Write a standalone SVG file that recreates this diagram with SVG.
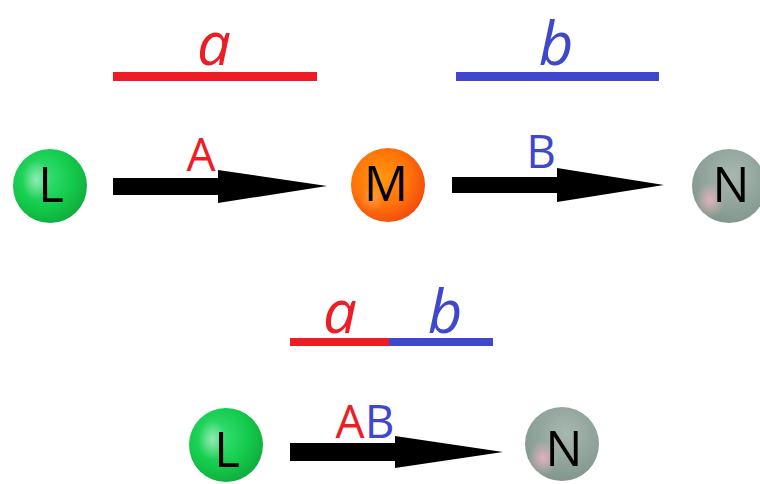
<svg xmlns="http://www.w3.org/2000/svg" width="760" height="484" viewBox="0 0 760 484">
  <defs>
    <radialGradient id="gGreen" cx="0.4" cy="0.38" r="0.65">
      <stop offset="0" stop-color="#3be07a"/>
      <stop offset="0.6" stop-color="#14cc4c"/>
      <stop offset="1" stop-color="#0fae3c"/>
    </radialGradient>
    <radialGradient id="gOrange" cx="0.4" cy="0.4" r="0.65">
      <stop offset="0" stop-color="#ff9a10"/>
      <stop offset="0.6" stop-color="#ff7208"/>
      <stop offset="1" stop-color="#f04a10"/>
    </radialGradient>
    <radialGradient id="gGrey" cx="0.55" cy="0.35" r="0.7">
      <stop offset="0" stop-color="#a8b8b0"/>
      <stop offset="0.6" stop-color="#8fa39a"/>
      <stop offset="1" stop-color="#7e948a"/>
    </radialGradient>
    <radialGradient id="gPink" cx="0.5" cy="0.5" r="0.5">
      <stop offset="0" stop-color="#e8b4c0" stop-opacity="0.9"/>
      <stop offset="1" stop-color="#e8b4c0" stop-opacity="0"/>
    </radialGradient>
    <radialGradient id="gShine" cx="0.5" cy="0.5" r="0.5">
      <stop offset="0" stop-color="#ffffff" stop-opacity="0.45"/>
      <stop offset="1" stop-color="#ffffff" stop-opacity="0"/>
    </radialGradient>
  </defs>
  <style>
    .letter { font-family: "Open Sans", "Liberation Sans", sans-serif; font-size: 49px; font-weight: 500; fill: #000; text-anchor: middle; }
    .lbl { font-family: "Open Sans", "Liberation Sans", sans-serif; font-size: 46px; font-weight: 500; text-anchor: middle; }
    .ital { font-family: "Open Sans", "Liberation Sans", sans-serif; font-style: italic; font-size: 60px; text-anchor: middle; }
    .red { fill: #ee1c25; }
    .blue { fill: #3f48cc; }
    .arrow { fill: #000; }
  </style>
  <rect width="760" height="484" fill="#ffffff"/>

  <g id="brackets">
    <rect x="113" y="72" width="204" height="9" fill="#ee1c25"/>
    <text class="ital red" x="214" y="65">a</text>
    <rect x="456" y="72" width="203" height="9" fill="#3f48cc"/>
    <text class="ital blue" x="556" y="65">b</text>
    <rect x="290" y="338" width="99" height="8" fill="#ee1c25"/>
    <rect x="389" y="338" width="104" height="8" fill="#3f48cc"/>
    <text class="ital red" x="340" y="333">a</text>
    <text class="ital blue" x="445" y="333">b</text>
  </g>

  <g id="connectors">
    <g id="arrow-LM">
      <polygon class="arrow" points="113,178 218,178 218,170 327,186 218,203 218,195 113,195"/>
      <text class="lbl red" x="201" y="171">A</text>
    </g>
    <g id="arrow-MN">
      <polygon class="arrow" points="452,177 557,177 557,168 664,185 557,202 557,193 452,193"/>
      <text class="lbl blue" x="541" y="168">B</text>
    </g>
    <g id="arrow-LN">
      <polygon class="arrow" points="290,443 395,443 395,436 503,452 395,468 395,461 290,461"/>
      <text class="lbl" x="365" y="438"><tspan class="red">A</tspan><tspan class="blue">B</tspan></text>
    </g>
  </g>

  <g id="node-L1">
    <circle cx="50" cy="186" r="37" fill="url(#gGreen)"/>
    <ellipse cx="36" cy="180" rx="14" ry="20" fill="url(#gShine)"/>
    <text class="letter" x="51" y="202">L</text>
  </g>
  <g id="node-M">
    <circle cx="388" cy="185" r="37" fill="url(#gOrange)"/>
    <ellipse cx="372" cy="198" rx="12" ry="14" fill="url(#gShine)" opacity="0.5"/>
    <text class="letter" x="386" y="201">M</text>
  </g>
  <g id="node-N1">
    <circle cx="729" cy="186" r="37" fill="url(#gGrey)"/>
    <ellipse cx="710" cy="200" rx="15" ry="18" fill="url(#gPink)"/>
    <text class="letter" x="731" y="202">N</text>
  </g>
  <g id="node-L2">
    <circle cx="226" cy="445" r="37" fill="url(#gGreen)"/>
    <ellipse cx="212" cy="440" rx="14" ry="20" fill="url(#gShine)"/>
    <text class="letter" x="227" y="467">L</text>
  </g>
  <g id="node-N2">
    <circle cx="562" cy="444" r="37" fill="url(#gGrey)"/>
    <ellipse cx="543" cy="458" rx="15" ry="18" fill="url(#gPink)"/>
    <text class="letter" x="564" y="466">N</text>
  </g>
</svg>
